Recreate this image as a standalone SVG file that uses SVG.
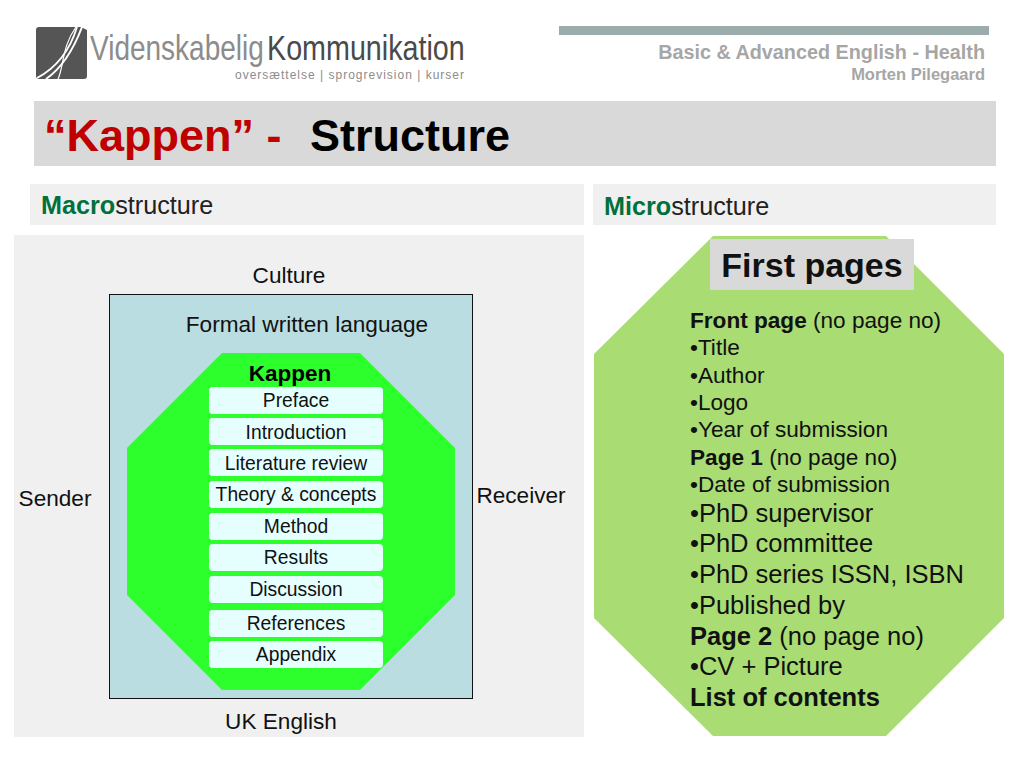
<svg xmlns="http://www.w3.org/2000/svg" width="1024" height="768" viewBox="0 0 1024 768">
<style>
text{font-family:"Liberation Sans",Arial,sans-serif;fill:#000}
.b{font-weight:bold}
.p{fill:#f0f0f0}
.item{fill:#e5ffff}
.t{font-size:19.3px;text-anchor:middle;fill:#111}
.m{font-size:22.6px;fill:#111}
.s{font-size:25.5px;fill:#111}
.l{font-size:22.6px;fill:#111}
.h{font-weight:bold;fill:#a6a6a6}
.g{fill:#00703c;font-weight:bold}
.gg{fill:#222;font-size:25.2px}
</style>
<rect width="1024" height="768" fill="#fff"/>
<g id="logo">
<rect x="36" y="27" width="51" height="52" rx="3" fill="#555"/>
<path d="M73 27L87 27L87 30L81 27Z" fill="#fff"/>
<path d="M37 78C56 68 70 50 77 27" fill="none" stroke="#fff" stroke-width="1.8"/>
<path d="M46 79C62 68 74 48 82 27" fill="none" stroke="#fff" stroke-width="2"/>
<path d="M58 79C64 66 62 46 76 27" fill="none" stroke="#fff" stroke-width="1.2"/>
<text transform="translate(90 60) scale(.8 1)" font-size="35" style="fill:#8c8c8c">Videnskabelig</text>
<text transform="translate(267 60) scale(.82 1)" font-size="35" style="fill:#4a4a4a">Kommunikation</text>
<text x="235" y="78.5" font-size="12" style="fill:#8c8c8c" textLength="229" lengthAdjust="spacing">oversættelse | sprogrevision | kurser</text>
</g>
<g id="header">
<rect x="559" y="26" width="430" height="9" fill="#9aacac"/>
<text class="h" x="985" y="59" font-size="19.8" text-anchor="end">Basic &amp; Advanced English - Health</text>
<text class="h" x="985" y="80" font-size="16.5" text-anchor="end">Morten Pilegaard</text>
</g>
<g id="title">
<rect x="34" y="101" width="962" height="65" fill="#d9d9d9"/>
<text x="44" y="151" font-size="45" class="b"><tspan style="fill:#c00000">“Kappen” -</tspan><tspan x="310">Structure</tspan></text>
</g>
<g id="macro-head">
<rect class="p" x="30" y="184" width="554" height="41"/>
<text x="41" y="214" class="gg"><tspan class="g">Macro</tspan>structure</text>
</g>
<g id="micro-head">
<rect class="p" x="593" y="184" width="403" height="41"/>
<text x="604" y="215" class="gg"><tspan class="g">Micro</tspan>structure</text>
</g>
<g id="macro-panel"><rect class="p" x="14" y="235" width="570" height="502"/></g>
<g id="culture-box"><rect x="109.5" y="294.5" width="363" height="404" fill="#b9dde1" stroke="#111" stroke-width="1"/></g>
<g id="culture"><text class="m" x="289" y="283" text-anchor="middle">Culture</text></g>
<g id="formal"><text class="m" x="307" y="332" text-anchor="middle">Formal written language</text></g>
<g id="sender"><text class="m" x="55" y="506" text-anchor="middle">Sender</text></g>
<g id="receiver"><text class="m" x="521" y="503" text-anchor="middle">Receiver</text></g>
<g id="uk"><text class="m" x="281" y="729" text-anchor="middle">UK English</text></g>
<g id="kappen">
<polygon points="222,353 360,353 455,448 455,595 360,690 222,690 127,595 127,448" fill="#2cff2c"/>
<text class="b" x="290" y="381" font-size="22.5" text-anchor="middle">Kappen</text>
</g>
<g id="preface"><rect class="item" x="209" y="387" width="174" height="27" rx="4"/><text class="t" x="296" y="407">Preface</text></g>
<g id="introduction"><rect class="item" x="209" y="418" width="174" height="27" rx="4"/><text class="t" x="296" y="439">Introduction</text></g>
<g id="literature"><rect class="item" x="209" y="449" width="174" height="27" rx="4"/><text class="t" x="296" y="470">Literature review</text></g>
<g id="theory"><rect class="item" x="209" y="481" width="174" height="27" rx="4"/><text class="t" x="296" y="501">Theory &amp; concepts</text></g>
<g id="method"><rect class="item" x="209" y="513" width="174" height="27" rx="4"/><text class="t" x="296" y="533">Method</text></g>
<g id="results"><rect class="item" x="209" y="544" width="174" height="27" rx="4"/><text class="t" x="296" y="564">Results</text></g>
<g id="discussion"><rect class="item" x="209" y="576" width="174" height="27" rx="4"/><text class="t" x="296" y="596">Discussion</text></g>
<g id="references"><rect class="item" x="209" y="610" width="174" height="27" rx="4"/><text class="t" x="296" y="630">References</text></g>
<g id="appendix"><rect class="item" x="209" y="641" width="174" height="27" rx="4"/><text class="t" x="296" y="661">Appendix</text></g>
<g id="first-pages-shape">
<polygon points="713,236 886,236 1004,354 1004,618 886,736 713,736 594,618 594,354" fill="#a9dc73"/>
<rect x="710" y="239" width="204" height="51" fill="#d9d9d9"/>
<text class="b" x="812" y="277" font-size="34" text-anchor="middle" style="fill:#111">First pages</text>
</g>
<g id="first-pages-text">
<text class="l" x="690" y="328"><tspan class="b">Front page</tspan> (no page no)</text>
<text class="l" x="690" y="355">•Title</text>
<text class="l" x="690" y="383">•Author</text>
<text class="l" x="690" y="410">•Logo</text>
<text class="l" x="690" y="437">•Year of submission</text>
<text class="l" x="690" y="465"><tspan class="b">Page 1</tspan> (no page no)</text>
<text class="l" x="690" y="492">•Date of submission</text>
<text class="s" x="690" y="522">•PhD supervisor</text>
<text class="s" x="690" y="552">•PhD committee</text>
<text class="s" x="690" y="583">•PhD series ISSN, ISBN</text>
<text class="s" x="690" y="614">•Published by</text>
<text class="s" x="690" y="645"><tspan class="b">Page 2</tspan> (no page no)</text>
<text class="s" x="690" y="675">•CV + Picture</text>
<text class="s b" x="690" y="706">List of contents</text>
</g>
</svg>
